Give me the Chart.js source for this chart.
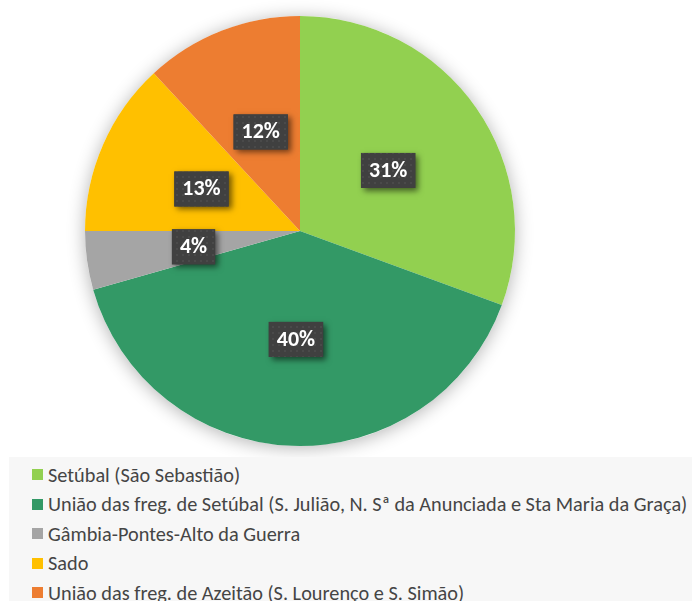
<!DOCTYPE html>
<html>
<head>
<meta charset="utf-8">
<script src="https://cdn.jsdelivr.net/npm/chart.js@4.4.1/dist/chart.umd.min.js"></script>
<style>
  html, body { margin: 0; padding: 0; background: #ffffff; }
  body { width: 692px; height: 601px; position: relative; overflow: hidden; }
  #wrap { position: absolute; left: 0; top: 0; width: 692px; height: 460px; }
  #legend { position: absolute; left: 9px; top: 457px; right: 0; bottom: 0; background: #f7f7f7;
            padding: 3px 0 0 23px; box-sizing: border-box; }
  .row { height: 29.5px; display: flex; align-items: center; white-space: nowrap;
         font-family: "Carlito", "Liberation Sans Narrow", "Noto Sans", sans-serif; font-size: 20.3px; color: #454545; }
  .sw { width: 11px; height: 11px; margin-right: 5px; flex: none; }
</style>
</head>
<body>
<div id="wrap"><canvas id="c"></canvas></div>
<div id="legend"></div>
<script>
const categories = [
  "Setúbal (São Sebastião)",
  "União das freg. de Setúbal (S. Julião, N. Sª da Anunciada e Sta Maria da Graça)",
  "Gâmbia-Pontes-Alto da Guerra",
  "Sado",
  "União das freg. de Azeitão (S. Lourenço e S. Simão)"
];
const shares = [30.6, 40.0, 4.4, 13.1, 11.9];
const colors = ["#92D050", "#339966", "#A5A5A5", "#FFC000", "#ED7D31"];

const shadowPlugin = {
  id: 'pieShadow',
  beforeDatasetsDraw(chart) {
    const meta = chart.getDatasetMeta(0);
    const a = meta.data[0];
    if (!a) return;
    const ctx = chart.ctx;
    ctx.save();
    ctx.shadowColor = 'rgba(0,0,0,0.30)';
    ctx.shadowBlur = 18;
    ctx.shadowOffsetX = 0;
    ctx.shadowOffsetY = 2;
    ctx.fillStyle = '#ffffff';
    ctx.beginPath();
    ctx.arc(a.x, a.y, a.outerRadius, 0, Math.PI * 2);
    ctx.fill();
    ctx.restore();
  }
};

function makePattern(ctx) {
  const t = document.createElement('canvas');
  t.width = 6; t.height = 6;
  const g = t.getContext('2d');
  g.fillStyle = '#404040';
  g.fillRect(0, 0, 6, 6);
  g.fillStyle = '#4a4a4a';
  g.fillRect(2, 2, 2, 2);
  return ctx.createPattern(t, 'repeat');
}

const labelPlugin = {
  id: 'boxLabels',
  afterDatasetsDraw(chart) {
    const ctx = chart.ctx;
    const meta = chart.getDatasetMeta(0);
    const total = shares.reduce((s, v) => s + v, 0);
    const pat = makePattern(ctx);
    ctx.save();
    ctx.font = 'bold 22px "Carlito", "Liberation Sans", Arial, sans-serif';
    ctx.textAlign = 'center';
    ctx.textBaseline = 'middle';
    meta.data.forEach((el, i) => {
      const p = el.tooltipPosition();
      const txt = Math.round(shares[i] / total * 100) + '%';
      const w = ctx.measureText(txt).width + 16;
      const h = 35;
      const x = p.x - w / 2, y = p.y + 1 - h / 2;
      ctx.save();
      ctx.shadowColor = 'rgba(0,0,0,0.55)';
      ctx.shadowBlur = 6;
      ctx.shadowOffsetX = 3;
      ctx.shadowOffsetY = 3;
      ctx.fillStyle = '#404040';
      ctx.fillRect(x, y, w, h);
      ctx.restore();
      ctx.fillStyle = pat;
      ctx.fillRect(x, y, w, h);
      ctx.fillStyle = '#ffffff';
      ctx.fillText(txt, p.x, p.y + 2);
    });
    ctx.restore();
  }
};

new Chart(document.getElementById('c'), {
  type: 'pie',
  data: {
    labels: categories,
    datasets: [{ data: shares, backgroundColor: colors, borderWidth: 0 }]
  },
  options: {
    responsive: true,
    maintainAspectRatio: false,
    animation: false,
    layout: { padding: { top: 16, bottom: 14, left: 0, right: 92 } },
    plugins: { legend: { display: false }, tooltip: { enabled: false } }
  },
  plugins: [shadowPlugin, labelPlugin]
});

const leg = document.getElementById('legend');
categories.forEach((c, i) => {
  const r = document.createElement('div');
  r.className = 'row';
  const s = document.createElement('span');
  s.className = 'sw';
  s.style.background = colors[i];
  const t = document.createElement('span');
  t.textContent = c;
  r.appendChild(s); r.appendChild(t);
  leg.appendChild(r);
});
</script>
</body>
</html>
